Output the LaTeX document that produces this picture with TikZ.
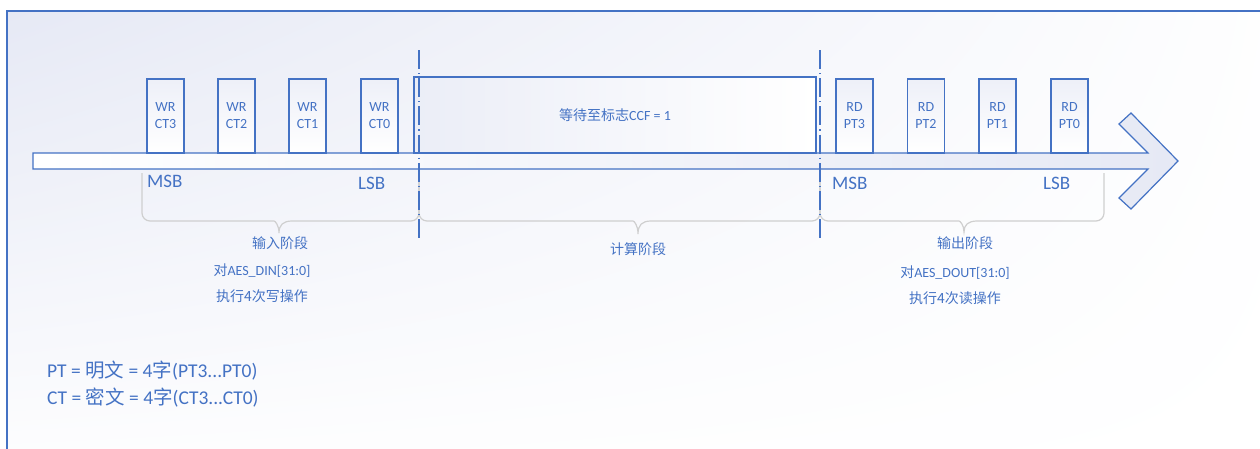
\documentclass[tikz,border=0pt]{standalone}
\usepackage{fontspec}
\usetikzlibrary{shadings}
\setmainfont{Carlito}
\newfontfamily\cjk{Noto Sans CJK SC}
\definecolor{aesblue}{HTML}{4472C4}
\definecolor{lavender}{HTML}{E6E9F5}
\definecolor{bracegray}{HTML}{CFCFCF}
\tikzset{
  regbox/.style={draw=aesblue, line width=1.2pt, top color=lavender!70, bottom color=white,
    text=aesblue, minimum width=37pt, minimum height=74pt, inner sep=0pt, align=center,
    font=\fontsize{14}{17}\selectfont},
  bitlabel/.style={text=aesblue, inner sep=0pt, anchor=west, font=\fontsize{19}{22}\selectfont},
  phaselabel/.style={text=aesblue, inner sep=0pt, font=\fontsize{14}{16}\selectfont},
  legendtext/.style={text=aesblue, inner sep=0pt, anchor=west, font=\fontsize{19.5}{23}\selectfont},
  bracepath/.style={draw=bracegray, line width=1.2pt},
  phaseline/.style={draw=aesblue, line width=1.5pt, dash pattern=on 19pt off 4pt on 1.2pt off 4pt}
}
% brace: left x, tip x, right x, tip y
\newcommand{\phasebrace}[4]{%
  \draw[bracepath] (#1,173) [rounded corners=8pt] -- (#1,221) -- (#2-13,221) [sharp corners]
    .. controls (#2-4,221) and (#2,225) .. (#2,#4)
    .. controls (#2,225) and (#2+4,221) .. (#2+13,221) [rounded corners=8pt]
    -- (#3,221) -- (#3,173);}
\begin{document}
\begin{tikzpicture}[x=1pt, y=-1pt]
    \useasboundingbox (0,0) rectangle (1260,448);
    \clip (0,0) rectangle (1260,448);
    % Draw the background and frame
    \shade[upper left=lavender, upper right=white!96!lavender, lower left=white!92!lavender, lower right=white]
        (7,11) rectangle (1275,460);
    \draw[aesblue, line width=2pt] (7,460) -- (7,11) -- (1275,11);

    % Draw the time axis
    \draw[aesblue, line width=1.2pt, left color=white, right color=lavender]
        (33,153) -- (1148,153) -- (1119,124) -- (1131,113) -- (1178,161)
        -- (1131,209) -- (1119,198) -- (1148,169) -- (33,169) -- cycle;

    % Draw the register accesses
    \foreach \i/\x in {3/165.5, 2/236.5, 1/307.5, 0/379.5} {
        \node[regbox] (wr\i) at (\x,116) {WR\\CT\i};
    }
    \node[regbox, minimum width=402pt, minimum height=76pt, left color=lavender!80, right color=white]
        (wait) at (615,115) {{\cjk 等待至标志}CCF = 1};
    \foreach \i/\x in {3/854.5, 2/926, 1/997.5, 0/1069.5} {
        \node[regbox] (rd\i) at (\x,116) {RD\\PT\i};
    }

    % Draw the phase braces
    \phasebrace{142}{279}{419}{233}
    \phasebrace{419}{638}{820}{234}
    \phasebrace{820}{964}{1104}{232}

    % Draw the phase boundaries
    \draw[phaseline] (419,50) -- (419,238);
    \draw[phaseline] (820,50) -- (820,238);

    % Label the bit order
    \node[bitlabel] (msbin) at (147,181) {MSB};
    \node[bitlabel] (lsbin) at (358,183) {LSB};
    \node[bitlabel] (msbout) at (832,183) {MSB};
    \node[bitlabel] (lsbout) at (1043,183) {LSB};

    % Label the phases
    \node[phaselabel] (inphase) at (280,243) {\cjk 输入阶段};
    \node[phaselabel] (inreg) at (262,271) {{\cjk 对}AES\_DIN[31:0]};
    \node[phaselabel] (inops) at (262,296) {\cjk 执行4次写操作};
    \node[phaselabel] (calcphase) at (638,249) {\cjk 计算阶段};
    \node[phaselabel] (outphase) at (965,243) {\cjk 输出阶段};
    \node[phaselabel] (outreg) at (955,273) {{\cjk 对}AES\_DOUT[31:0]};
    \node[phaselabel] (outops) at (955,298) {\cjk 执行4次读操作};

    % Legend
    \node[legendtext] (ptdef) at (47,371) {PT = {\cjk 明文} = 4{\cjk 字}(PT3...PT0)};
    \node[legendtext] (ctdef) at (47,398) {CT = {\cjk 密文} = 4{\cjk 字}(CT3...CT0)};
\end{tikzpicture}
\end{document}
